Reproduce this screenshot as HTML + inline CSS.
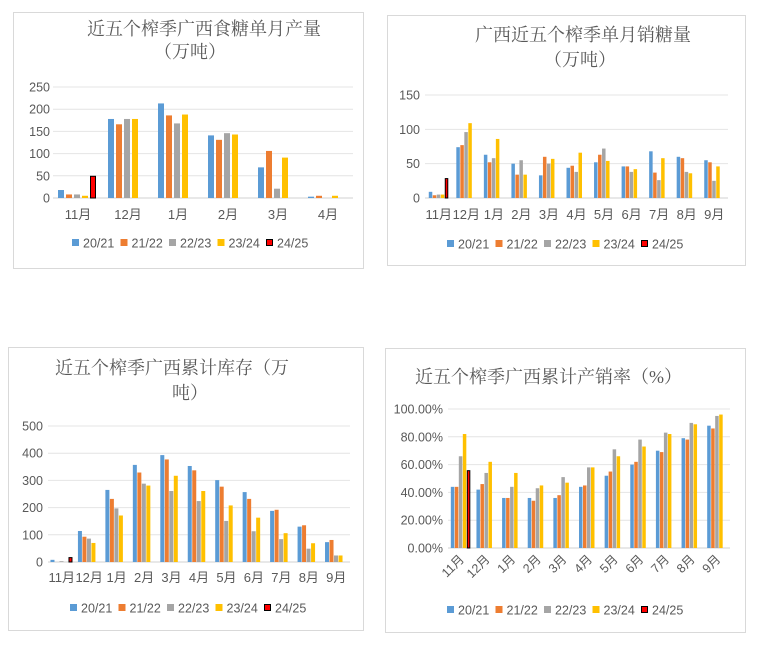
<!DOCTYPE html>
<html><head><meta charset="utf-8"><style>
html,body{margin:0;padding:0;background:#fff;}
svg{display:block;}
</style></head><body>
<svg id="s" width="762" height="645" xmlns="http://www.w3.org/2000/svg" font-family="Liberation Sans, Noto Sans CJK SC, sans-serif">
<rect x="13.5" y="12.5" width="350" height="256" fill="#fff" stroke="#d9d9d9"/>
<rect x="387.5" y="15.5" width="358" height="250" fill="#fff" stroke="#d9d9d9"/>
<rect x="8.5" y="347.5" width="355" height="283" fill="#fff" stroke="#d9d9d9"/>
<rect x="385.5" y="348.5" width="360" height="284" fill="#fff" stroke="#d9d9d9"/>
<g font-family="Liberation Serif, Noto Serif CJK SC, serif" font-size="18" fill="#595959">
<text x="87" y="35">近五个榨季广西食糖单月产量</text>
<text x="190" y="58" text-anchor="middle">（万吨）</text>
<text x="475" y="41">广西近五个榨季单月销糖量</text>
<text x="580" y="66" text-anchor="middle">（万吨）</text>
<text x="55" y="374">近五个榨季广西累计库存（万</text>
<text x="190" y="399" text-anchor="middle">吨）</text>
<text x="415" y="383">近五个榨季广西累计产销率（%）</text>
</g>
<g id="g"></g>
</svg>
<script>
var C=["#5B9BD5","#ED7D31","#A5A5A5","#FFC000","#FF0000"];
var M11=["11月","12月","1月","2月","3月","4月","5月","6月","7月","8月","9月"];
var P=[
{x0:53,x1:353,yT:87,y0:198,max:250,step:50,cats:M11.slice(0,6),bw:6,bs:8,lx:50,ly:219,rot:false,pct:false,legY:245,legX:72,
d:[[18,8,8,5,50],[178,166,178,178],[213,186,168,188],[141,131,146,143],[69,106,21,91],[3,5,0,5]]},
{x0:425,x1:728,yT:95,y0:198,max:150,step:50,cats:M11,bw:3.5,bs:4,lx:420,ly:219,rot:false,pct:false,legY:246,legX:447,
d:[[9,4,5,5,29],[74,77,96,109],[63,52,58,86],[50,34,55,34],[33,60,50,57],[44,47,38,66],[52,63,72,54],[46,46,38,42],[68,37,26,58],[60,58,38,36],[55,52,25,46]]},
{x0:48,x1:350,yT:426,y0:562,max:500,step:100,cats:M11,bw:4,bs:4.5,lx:43,ly:582,rot:false,pct:false,legY:610,legX:70,
d:[[8,0,3,0,18],[114,93,86,70],[265,232,197,171],[357,329,288,281],[393,377,261,317],[353,337,224,261],[301,277,151,208],[257,232,113,163],[188,192,84,106],[130,135,49,69],[73,81,24,24]]},
{x0:448,x1:730,yT:409,y0:548,max:100,step:20,cats:M11,bw:3.5,bs:4,lx:443,ly:560,rot:true,pct:true,legY:612,legX:447,
d:[[44,44,66,82,56],[42,46,54,62],[36,36,44,54],[36,34,43,45],[36,38,51,47],[44,45,58,58],[52,55,71,66],[60,62,78,73],[70,69,83,82],[79,78,90,89],[88,86,95,96]]}
];
var h="";
P.forEach(function(p){
 var n=p.max/p.step;
 for(var i=0;i<=n;i++){var y=p.y0-(p.y0-p.yT)*i/n;
  h+='<line x1="'+p.x0+'" x2="'+p.x1+'" y1="'+y+'" y2="'+y+'" stroke="'+(i==0?'#d0d0d0':'#e4e4e4')+'" stroke-width="1"/>';
  var v=p.step*i; var t=p.pct?(v.toFixed(2)+'%'):v;
  h+='<text x="'+p.lx+'" y="'+(y+4.5)+'" font-size="12.5" fill="#595959" text-anchor="end">'+t+'</text>';}
 var cw=(p.x1-p.x0)/p.cats.length;
 p.cats.forEach(function(c,ci){
  var cx=p.x0+cw*(ci+0.5); var st=cx-p.bs*2.5;
  p.d[ci].forEach(function(v,si){
   var bh=(p.y0-p.yT)*v/p.max; var x=st+si*p.bs;
   if(bh>0){ if(si==4) h+='<rect x="'+(x+0.5)+'" y="'+(p.y0-bh+0.5)+'" width="'+(p.bw-1)+'" height="'+(bh-0.5)+'" fill="#f00" stroke="#000" stroke-width="1"/>';
   else h+='<rect x="'+x+'" y="'+(p.y0-bh)+'" width="'+p.bw+'" height="'+bh+'" fill="'+C[si]+'"/>';}
  });
  if(p.rot) h+='<text transform="translate('+(cx+4)+','+(p.ly)+') rotate(-45)" font-size="12.5" fill="#595959" text-anchor="end">'+c+'</text>';
  else h+='<text x="'+cx+'" y="'+p.ly+'" font-size="13" fill="#595959" text-anchor="middle">'+c+'</text>';
 });
 var L=["20/21","21/22","22/23","23/24","24/25"];
 L.forEach(function(l,i){var x=p.legX+i*48.5;
  if(i==4) h+='<rect x="'+(x+0.5)+'" y="'+(p.legY-5.5)+'" width="6" height="6" fill="#f00" stroke="#000"/>';
  else h+='<rect x="'+x+'" y="'+(p.legY-6)+'" width="7" height="7" fill="'+C[i]+'"/>';
  h+='<text x="'+(x+11)+'" y="'+(p.legY+2.5)+'" font-size="12.5" fill="#595959">'+l+'</text>';});
});
document.getElementById("g").innerHTML=h;
</script>
</body></html>
